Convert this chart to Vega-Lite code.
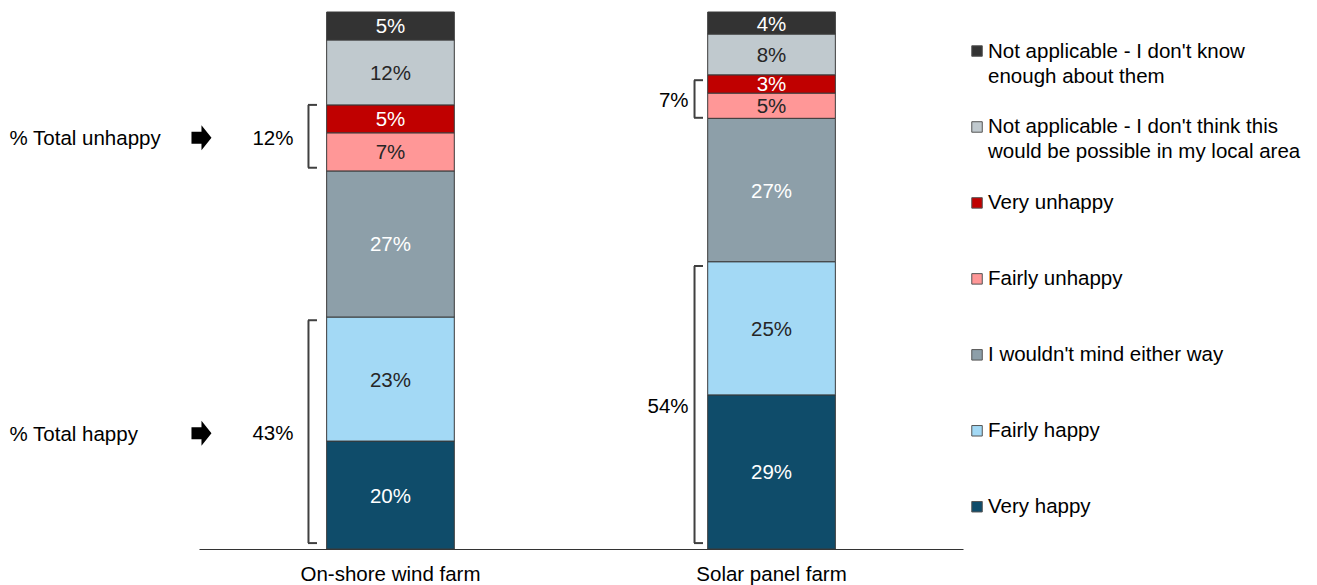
{
  "$schema": "https://vega.github.io/schema/vega-lite/v6.json",
  "width": 764,
  "height": 537,
  "autosize": "none",
  "padding": {"left": 199, "top": 12, "right": 354, "bottom": 36},
  "background": "#ffffff",
  "config": {"view": {"stroke": null}, "font": "Liberation Sans"},
  "datasets": {
    "answers": [
      {"farm": "On-shore wind farm", "answer": "Very happy", "code": 1, "share": 0.201},
      {"farm": "On-shore wind farm", "answer": "Fairly happy", "code": 2, "share": 0.231},
      {"farm": "On-shore wind farm", "answer": "I wouldn't mind either way", "code": 3, "share": 0.272},
      {"farm": "On-shore wind farm", "answer": "Fairly unhappy", "code": 4, "share": 0.071},
      {"farm": "On-shore wind farm", "answer": "Very unhappy", "code": 5, "share": 0.052},
      {"farm": "On-shore wind farm", "answer": "Not applicable - I don't think this would be possible in my local area", "code": 6, "share": 0.121},
      {"farm": "On-shore wind farm", "answer": "Not applicable - I don't know enough about them", "code": 7, "share": 0.052},
      {"farm": "Solar panel farm", "answer": "Very happy", "code": 1, "share": 0.287},
      {"farm": "Solar panel farm", "answer": "Fairly happy", "code": 2, "share": 0.248},
      {"farm": "Solar panel farm", "answer": "I wouldn't mind either way", "code": 3, "share": 0.267},
      {"farm": "Solar panel farm", "answer": "Fairly unhappy", "code": 4, "share": 0.047},
      {"farm": "Solar panel farm", "answer": "Very unhappy", "code": 5, "share": 0.034},
      {"farm": "Solar panel farm", "answer": "Not applicable - I don't think this would be possible in my local area", "code": 6, "share": 0.076},
      {"farm": "Solar panel farm", "answer": "Not applicable - I don't know enough about them", "code": 7, "share": 0.041}
    ],
    "groups": [
      {"farm": "On-shore wind farm", "group": "unhappy", "caption": "% Total unhappy", "total": 0.12, "edge": 0.71},
      {"farm": "On-shore wind farm", "group": "unhappy", "caption": "% Total unhappy", "total": 0.12, "edge": 0.827},
      {"farm": "On-shore wind farm", "group": "happy", "caption": "% Total happy", "total": 0.43, "edge": 0.011},
      {"farm": "On-shore wind farm", "group": "happy", "caption": "% Total happy", "total": 0.43, "edge": 0.426},
      {"farm": "Solar panel farm", "group": "unhappy", "total": 0.07, "edge": 0.803},
      {"farm": "Solar panel farm", "group": "unhappy", "total": 0.07, "edge": 0.873},
      {"farm": "Solar panel farm", "group": "happy", "total": 0.54, "edge": 0.011},
      {"farm": "Solar panel farm", "group": "happy", "total": 0.54, "edge": 0.527}
    ],
    "legend": [
      {"answer": "Not applicable - I don't know enough about them", "lines": ["Not applicable - I don't know", "enough about them"]},
      {"answer": "Not applicable - I don't think this would be possible in my local area", "lines": ["Not applicable - I don't think this", "would be possible in my local area"]},
      {"answer": "Very unhappy", "lines": ["Very unhappy"]},
      {"answer": "Fairly unhappy", "lines": ["Fairly unhappy"]},
      {"answer": "I wouldn't mind either way", "lines": ["I wouldn't mind either way"]},
      {"answer": "Fairly happy", "lines": ["Fairly happy"]},
      {"answer": "Very happy", "lines": ["Very happy"]}
    ]
  },
  "layer": [
    {
      "layer": [
        {
          "data": {"name": "answers"},
          "mark": {"type": "bar", "stroke": "#3a3a3a", "strokeWidth": 1},
          "encoding": {
            "x": {
              "field": "farm", "type": "nominal",
              "scale": {"paddingInner": 0.665, "paddingOuter": 0.335},
              "axis": {"title": null, "ticks": false, "labelAngle": 0, "labelFontSize": 20.5, "labelColor": "#000000", "labelPadding": 15, "labelLimit": 400, "domainColor": "#333333", "domainWidth": 1, "grid": false}
            },
            "y": {"field": "share", "type": "quantitative", "stack": "zero", "scale": {"domain": [0, 1]}, "axis": null},
            "color": {
              "field": "answer", "type": "nominal",
              "scale": {
                "domain": ["Not applicable - I don't know enough about them", "Not applicable - I don't think this would be possible in my local area", "Very unhappy", "Fairly unhappy", "I wouldn't mind either way", "Fairly happy", "Very happy"],
                "range": ["#333333", "#c0c9ce", "#c00000", "#ff9797", "#8d9fa9", "#a3d9f5", "#0f4c6a"]
              },
              "legend": null
            },
            "order": {"field": "code", "type": "quantitative"}
          }
        },
        {
          "data": {"name": "answers"},
          "mark": {"type": "text", "fontSize": 20.5, "baseline": "middle", "dy": 1.5},
          "encoding": {
            "x": {"field": "farm", "type": "nominal"},
            "y": {"field": "share", "type": "quantitative", "stack": "zero", "bandPosition": 0.5},
            "order": {"field": "code", "type": "quantitative"},
            "text": {"field": "share", "type": "quantitative", "format": ".0%"},
            "color": {"condition": {"test": "datum.code % 2 == 1", "value": "#ffffff"}, "value": "#262626"}
          }
        },
        {
          "data": {"name": "groups"},
          "mark": {"type": "rule", "stroke": "#404040", "strokeWidth": 2, "xOffset": {"expr": "datum.farm == 'Solar panel farm' ? -77 : -82"}},
          "encoding": {
            "x": {"field": "farm", "type": "nominal"},
            "y": {"aggregate": "min", "field": "edge", "type": "quantitative"},
            "y2": {"aggregate": "max", "field": "edge"},
            "detail": {"field": "group", "type": "nominal"}
          }
        },
        {
          "data": {"name": "groups"},
          "mark": {"type": "tick", "orient": "horizontal", "size": 9, "thickness": 2, "color": "#404040", "opacity": 1, "xOffset": {"expr": "datum.farm == 'Solar panel farm' ? -73 : -78"}},
          "encoding": {
            "x": {"field": "farm", "type": "nominal"},
            "y": {"field": "edge", "type": "quantitative"}
          }
        },
        {
          "data": {"name": "groups"},
          "mark": {"type": "text", "align": "right", "baseline": "middle", "fontSize": 20.5, "dy": 2.5, "color": "#000000", "xOffset": {"expr": "datum.farm == 'Solar panel farm' ? -83 : -97"}},
          "encoding": {
            "x": {"field": "farm", "type": "nominal"},
            "y": {"aggregate": "mean", "field": "edge", "type": "quantitative"},
            "text": {"aggregate": "max", "field": "total", "type": "quantitative", "format": ".0%"},
            "detail": {"field": "group", "type": "nominal"}
          }
        },
        {
          "data": {"name": "groups"},
          "transform": [{"filter": "isValid(datum.caption)"}],
          "mark": {"type": "text", "align": "left", "baseline": "middle", "fontSize": 20.5, "dy": 3, "color": "#000000", "xOffset": -381},
          "encoding": {
            "x": {"field": "farm", "type": "nominal"},
            "y": {"aggregate": "mean", "field": "edge", "type": "quantitative"},
            "text": {"field": "caption", "type": "nominal"}
          }
        },
        {
          "data": {"name": "groups"},
          "transform": [{"filter": "isValid(datum.caption)"}],
          "mark": {"type": "point", "shape": "M-1,-0.6L0,-0.6L0,-1.25L1,0L0,1.25L0,0.6L-1,0.6Z", "filled": true, "color": "#000000", "size": 400, "opacity": 1, "strokeWidth": 0, "xOffset": -189, "yOffset": 1.5},
          "encoding": {
            "x": {"field": "farm", "type": "nominal"},
            "y": {"aggregate": "mean", "field": "edge", "type": "quantitative"},
            "detail": {"field": "caption", "type": "nominal"}
          }
        }
      ]
    },
    {
      "data": {"name": "legend"},
      "layer": [
        {
          "mark": {"type": "square", "size": 110, "stroke": "#555555", "strokeWidth": 1, "opacity": 1, "xOffset": 205.5},
          "encoding": {
            "x": {"datum": "Solar panel farm", "type": "nominal"},
            "y": {
              "field": "answer", "type": "nominal",
              "scale": {"type": "point", "domain": ["Not applicable - I don't know enough about them", "Not applicable - I don't think this would be possible in my local area", "Very unhappy", "Fairly unhappy", "I wouldn't mind either way", "Fairly happy", "Very happy"], "padding": 0.535, "align": 0.48},
              "axis": null
            },
            "color": {"field": "answer", "type": "nominal", "legend": null}
          }
        },
        {
          "mark": {"type": "text", "align": "left", "baseline": "alphabetic", "dy": 6.5, "fontSize": 20.5, "lineHeight": 25, "color": "#000000", "xOffset": 216.5},
          "encoding": {
            "x": {"datum": "Solar panel farm", "type": "nominal"},
            "y": {"field": "answer", "type": "nominal"},
            "text": {"field": "lines", "type": "nominal"}
          }
        }
      ]
    }
  ],
  "resolve": {"scale": {"y": "independent"}}
}
